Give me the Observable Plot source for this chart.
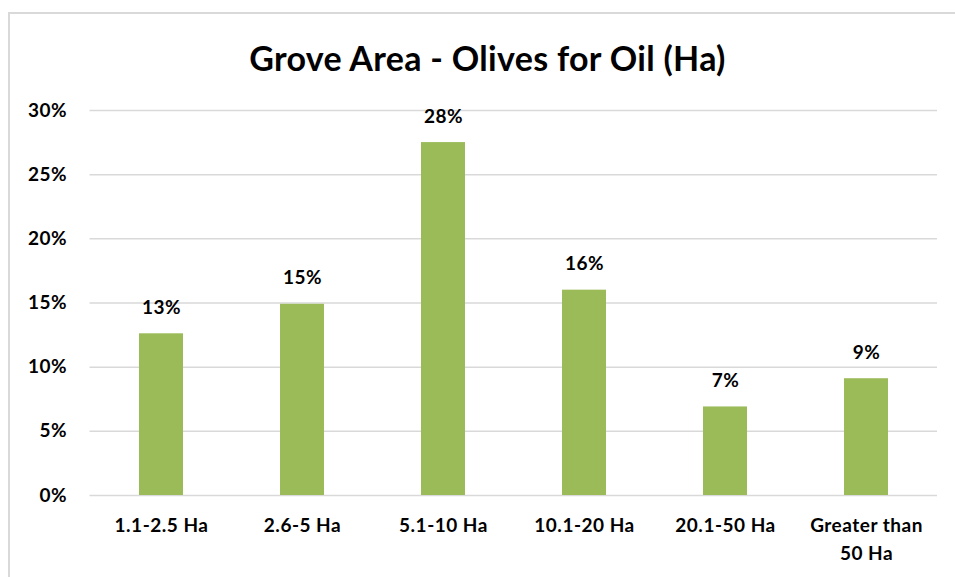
<!DOCTYPE html>
<html>
<head>
<meta charset="utf-8">
<script src="https://cdn.jsdelivr.net/npm/d3@7"></script>
<script src="https://cdn.jsdelivr.net/npm/@observablehq/plot@0.6"></script>
<style>
  html, body { margin: 0; padding: 0; background: #fff; overflow: hidden; }
  #frame {
    position: absolute; left: 8px; top: 12px; width: 960px; height: 600px;
    border-top: 2px solid #d9d9d9; border-left: 2px solid #d9d9d9; box-sizing: border-box;
  }
  #title {
    position: absolute; left: 0; top: 23px; width: 955px; text-align: center;
    font-family: Lato, "Open Sans", sans-serif; font-weight: 700; font-size: 34px; letter-spacing: 0.3px; color: #000;
  }
  #chart { position: absolute; left: 0; top: 81px; }
  #chart svg text { letter-spacing: 0.5px; }
</style>
</head>
<body>
<div id="frame">
  <div id="title">Grove Area - Olives for Oil (Ha)</div>
  <div id="chart"></div>
</div>
<script>
const categories = ["1.1-2.5 Ha", "2.6-5 Ha", "5.1-10 Ha", "10.1-20 Ha", "20.1-50 Ha", "Greater than 50 Ha"];
const tickLabels = ["1.1-2.5 Ha", "2.6-5 Ha", "5.1-10 Ha", "10.1-20 Ha", "20.1-50 Ha", "Greater than\n50 Ha"];
const shares = [0.126, 0.149, 0.275, 0.160, 0.069, 0.091];
const yTicks = [0, 0.05, 0.10, 0.15, 0.20, 0.25, 0.30];

const data = categories.map((c, i) => ({category: c, share: shares[i]}));
const labelOf = new Map(categories.map((c, i) => [c, tickLabels[i]]));

const chart = Plot.plot({
  width: 945,
  height: 494,
  marginLeft: 79.5,
  marginRight: 18,
  marginTop: 15,
  marginBottom: 94,
  style: {fontFamily: "Lato, 'Open Sans', sans-serif", fontWeight: 700, fontSize: "19px", color: "#000", background: "transparent"},
  x: {domain: categories, paddingInner: 0.69, paddingOuter: 0.345, label: null},
  y: {domain: [0, 0.30], label: null},
  marks: [
    Plot.gridY(yTicks, {stroke: "#d9d9d9", strokeOpacity: 1, strokeWidth: 1.5}),
    Plot.barY(data, {x: "category", y: "share", fill: "#9bbb59"}),
    Plot.text(data, {x: "category", y: "share", text: d => Math.round(d.share * 100) + "%", dy: -26, fontSize: 19, fontWeight: 700, fill: "#000"}),
    Plot.axisY(yTicks, {tickSize: 0, tickPadding: 23, tickFormat: d => Math.round(d * 100) + "%", fontSize: 19, fontWeight: 700, label: null}),
    Plot.axisX({tickSize: 0, tickPadding: 17, tickFormat: d => labelOf.get(d), fontSize: 19, fontWeight: 700, lineHeight: 1.47, label: null})
  ]
});
document.getElementById("chart").appendChild(chart);
</script>
</body>
</html>
